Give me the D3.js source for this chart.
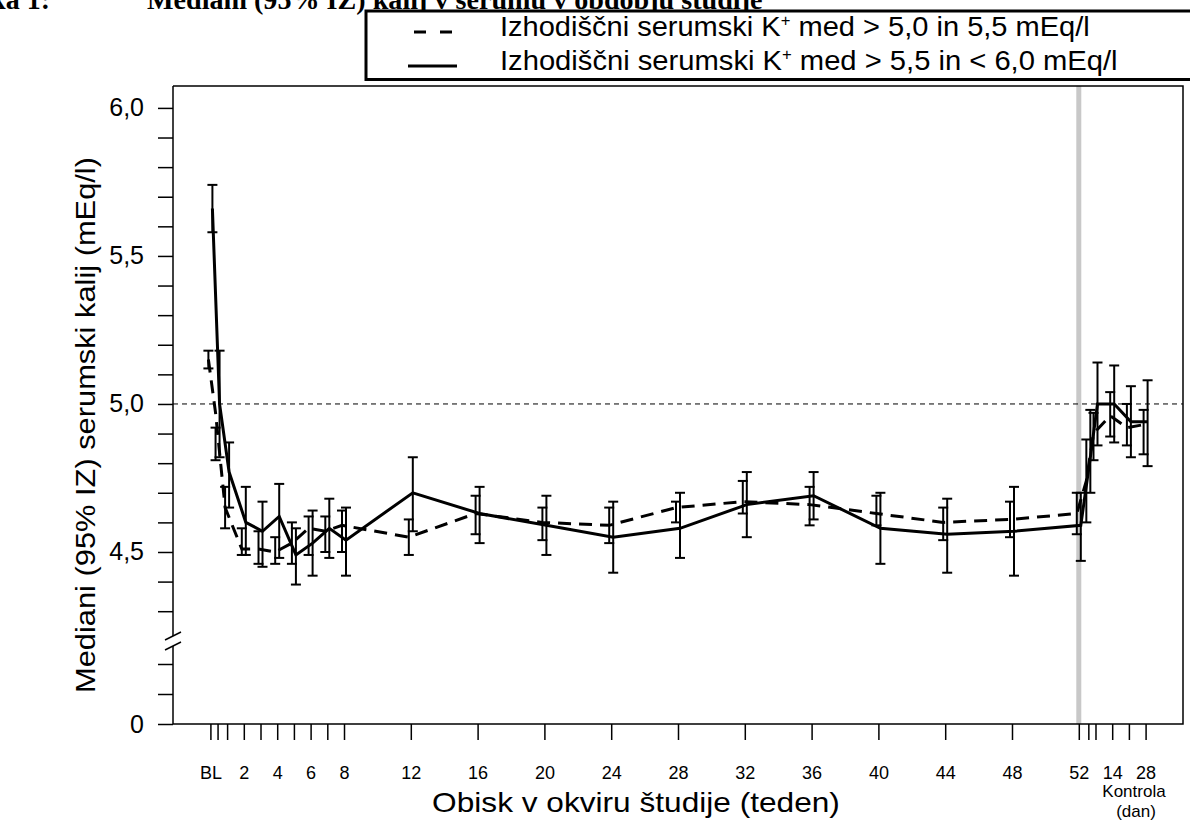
<!DOCTYPE html>
<html>
<head>
<meta charset="utf-8">
<script src="https://cdn.jsdelivr.net/npm/d3@7/dist/d3.min.js"></script>
<style>
  body { margin: 0; background: #fff; }
  svg { display: block; }
  text { font-family: "Liberation Sans", Arial, sans-serif; fill: #000; }
</style>
</head>
<body>
<div id="chart"></div>
<script>
// visits: treatment phase in weeks, follow-up in days after week 52
var studyWeeks = [0, 3 / 7, 1, 2, 3, 4, 5, 6, 7, 8, 12, 16, 20, 24, 28, 32, 36, 40, 44, 48, 52];
var followDays = [4, 7, 14, 21, 28];
var labelWeeks = [0, 2, 4, 6, 8, 12, 16, 20, 24, 28, 32, 36, 40, 44, 48, 52];
var labelDays = [14, 28];

// baseline K+ > 5,0 to 5,5 (dashed)
var dashMed = [5.15, 4.97, 4.65, 4.51, 4.51, 4.50, 4.53, 4.58, 4.57, 4.59, 4.55, 4.63, 4.60, 4.59, 4.65, 4.67, 4.66, 4.63, 4.60, 4.61, 4.63,
               4.74, 4.90, 4.96, 4.92, 4.93];
var dashLo  = [5.12, 4.81, 4.58, 4.49, 4.46, 4.46, 4.46, 4.49, 4.50, 4.50, 4.49, 4.56, 4.54, 4.53, 4.60, 4.63, 4.59, 4.59, 4.54, 4.55, 4.56,
               4.60, 4.81, 4.89, 4.86, 4.83];
var dashHi  = [5.18, 4.92, 4.72, 4.58, 4.57, 4.55, 4.60, 4.62, 4.62, 4.64, 4.61, 4.69, 4.65, 4.65, 4.67, 4.74, 4.72, 4.69, 4.65, 4.67, 4.70,
               4.88, 4.97, 5.04, 5.00, 4.98];

// baseline K+ > 5,5 to < 6,0 (solid)
var solidMed = [5.66, 5.00, 4.77, 4.60, 4.57, 4.62, 4.49, 4.53, 4.58, 4.54, 4.70, 4.63, 4.59, 4.55, 4.58, 4.66, 4.69, 4.58, 4.56, 4.57, 4.59,
                4.82, 5.00, 5.00, 4.94, 4.94];
var solidLo  = [5.58, 4.82, 4.65, 4.49, 4.45, 4.48, 4.39, 4.42, 4.48, 4.42, 4.57, 4.53, 4.49, 4.43, 4.48, 4.55, 4.61, 4.46, 4.43, 4.42, 4.47,
                4.70, 4.86, 4.87, 4.82, 4.79];
var solidHi  = [5.74, 5.18, 4.87, 4.72, 4.67, 4.73, 4.58, 4.64, 4.68, 4.65, 4.82, 4.72, 4.69, 4.67, 4.70, 4.77, 4.77, 4.70, 4.68, 4.72, 4.70,
                4.98, 5.14, 5.13, 5.06, 5.08];

var upperTicks = d3.range(43, 61).map(d => d / 10);
var lowerTicks = [0, 0.1, 0.2];
var labelledTicks = [0, 4.5, 5.0, 5.5, 6.0];
var refLevel = 5.0;

var legendText = [
  ["Izhodiščni serumski K", "+", " med > 5,0 in 5,5 mEq/l"],
  ["Izhodiščni serumski K", "+", " med > 5,5 in < 6,0 mEq/l"]
];

var width = 1190, height = 826;
var plot = {left: 173, right: 1183, top: 86, bottom: 724};

var svg = d3.select("#chart").append("svg")
  .attr("width", width)
  .attr("height", height);

// squeeze/stretch a text horizontally so it spans a given width
function fitWidth(t, x0, target) {
  var w = t.node().getBBox().width;
  t.attr("transform", `translate(${x0},0) scale(${target / w},1) translate(${-x0},0)`);
}

// position on the time axis, in weeks
var visitX = studyWeeks.concat(followDays.map(d => 52 + d / 7));

var x = d3.scaleLinear()
  .domain([-2.24, 58.24])
  .range([plot.left, plot.right]);

// broken axis: 0..0.2 at the bottom, 4.3.. upwards
var y = d3.scaleLinear()
  .domain([0, 0.2, 4.3, 6.074])
  .range([plot.bottom, 664, 611.2, plot.top]);

var comma = d3.formatLocale({decimal: ",", thousands: ".", grouping: [3], currency: ["", ""]});
var fmt1 = comma.format(".1f");

// title (clipped at the top of the page)
var serif = "'Liberation Serif', 'Times New Roman', serif";
svg.append("text")
  .attr("x", 50).attr("y", 9)
  .attr("text-anchor", "end")
  .style("font-family", serif)
  .style("font-weight", "bold")
  .style("font-size", "28px")
  .text("Slika 1:");
var title = svg.append("text")
  .attr("x", 147).attr("y", 9)
  .style("font-family", serif)
  .style("font-weight", "bold")
  .style("font-size", "28px")
  .text("Mediani (95% IZ) kalij v serumu v obdobju študije");
fitWidth(title, 147, 616);

// grey separator at week 52
svg.append("line")
  .attr("x1", x(52)).attr("x2", x(52))
  .attr("y1", plot.top).attr("y2", plot.bottom)
  .attr("stroke", "#c8c8c8")
  .attr("stroke-width", 5);

// reference line at 5,0
svg.append("line")
  .attr("x1", plot.left).attr("x2", plot.right)
  .attr("y1", y(refLevel)).attr("y2", y(refLevel))
  .attr("stroke", "#000")
  .attr("stroke-width", 1)
  .attr("stroke-dasharray", "5,4");

// frame (top, right, bottom)
svg.append("path")
  .attr("d", `M${plot.left},${plot.top}H${plot.right}V${plot.bottom}H${plot.left}`)
  .attr("fill", "none")
  .attr("stroke", "#000")
  .attr("stroke-width", 1.5);

// y axis with ticks
var yAxis = svg.append("g")
  .attr("transform", `translate(${plot.left},0)`)
  .call(d3.axisLeft(y)
    .tickValues(lowerTicks.concat(upperTicks))
    .tickSize(15)
    .tickPadding(14)
    .tickFormat(d => labelledTicks.some(v => Math.abs(v - d) < 1e-6) ? (d === 0 ? "0" : fmt1(d)) : ""));
yAxis.select(".domain").remove();
yAxis.selectAll(".tick line").attr("stroke-width", 1.5);
yAxis.selectAll("text").style("font-size", "25px");

var breakY = y(0.2) - 23;
svg.append("line")
  .attr("x1", plot.left).attr("x2", plot.left)
  .attr("y1", plot.top).attr("y2", breakY - 5)
  .attr("stroke", "#000").attr("stroke-width", 1.5);
svg.append("line")
  .attr("x1", plot.left).attr("x2", plot.left)
  .attr("y1", breakY + 5).attr("y2", plot.bottom)
  .attr("stroke", "#000").attr("stroke-width", 1.5);
[-5, 5].forEach(function(off) {
  svg.append("line")
    .attr("x1", plot.left - 8).attr("y1", breakY + off + 4)
    .attr("x2", plot.left + 8).attr("y2", breakY + off - 4)
    .attr("stroke", "#000").attr("stroke-width", 1.5);
});

// x axis
var xLabel = {};
labelWeeks.forEach(w => { xLabel[w] = w === 0 ? "BL" : String(w); });
labelDays.forEach(d => { xLabel[52 + d / 7] = String(d); });

var xAxis = svg.append("g")
  .attr("transform", `translate(0,${plot.bottom})`)
  .call(d3.axisBottom(x)
    .tickValues(visitX)
    .tickSize(16)
    .tickPadding(26)
    .tickFormat(d => xLabel[d] || ""));
xAxis.select(".domain").remove();
xAxis.selectAll(".tick line").attr("stroke-width", 1.5);
xAxis.selectAll("text").style("font-size", "18px");

// axis titles
var xTitle = svg.append("text")
  .attr("x", 636).attr("y", 812)
  .attr("text-anchor", "middle")
  .style("font-size", "28px")
  .text("Obisk v okviru študije (teden)");
fitWidth(xTitle, 636, 408);
svg.append("text")
  .attr("x", 1134).attr("y", 797)
  .attr("text-anchor", "middle")
  .style("font-size", "17px")
  .text("Kontrola");
svg.append("text")
  .attr("x", 1136).attr("y", 817)
  .attr("text-anchor", "middle")
  .style("font-size", "17px")
  .text("(dan)");
var yTitle = svg.append("text")
  .attr("text-anchor", "middle")
  .style("font-size", "28px")
  .text("Mediani (95% IZ) serumski kalij (mEq/l)");
var yTitleW = yTitle.node().getBBox().width;
yTitle.attr("transform", `translate(95,425) rotate(-90) scale(${536 / yTitleW},1)`);

// series
var series = [
  {med: dashMed, lo: dashLo, hi: dashHi, dx: -2, dash: "13,8"},
  {med: solidMed, lo: solidLo, hi: solidHi, dx: 2, dash: null}
];

series.forEach(function(s) {
  var pts = visitX.map((w, i) => ({x: x(w) + s.dx, m: s.med[i], lo: s.lo[i], hi: s.hi[i]}));
  var g = svg.append("g");

  var bars = g.selectAll("g.bar").data(pts).join("g").attr("class", "bar");
  bars.append("line")
    .attr("x1", d => d.x).attr("x2", d => d.x)
    .attr("y1", d => y(d.lo)).attr("y2", d => y(d.hi))
    .attr("stroke", "#000").attr("stroke-width", 2);
  bars.append("line")
    .attr("x1", d => d.x - 5).attr("x2", d => d.x + 5)
    .attr("y1", d => y(d.lo)).attr("y2", d => y(d.lo))
    .attr("stroke", "#000").attr("stroke-width", 2);
  bars.append("line")
    .attr("x1", d => d.x - 5).attr("x2", d => d.x + 5)
    .attr("y1", d => y(d.hi)).attr("y2", d => y(d.hi))
    .attr("stroke", "#000").attr("stroke-width", 2);

  g.append("path")
    .datum(pts)
    .attr("fill", "none")
    .attr("stroke", "#000")
    .attr("stroke-width", 3)
    .attr("stroke-dasharray", s.dash)
    .attr("d", d3.line().x(d => d.x).y(d => y(d.m)));
});

// legend
var leg = svg.append("g");
leg.append("rect")
  .attr("x", 366).attr("y", 11)
  .attr("width", 900).attr("height", 68.5)
  .attr("fill", "#fff")
  .attr("stroke", "#000")
  .attr("stroke-width", 3);
leg.append("line")
  .attr("x1", 414).attr("x2", 452).attr("y1", 32).attr("y2", 32)
  .attr("stroke", "#000").attr("stroke-width", 3).attr("stroke-dasharray", "12,14");
leg.append("line")
  .attr("x1", 408).attr("x2", 457).attr("y1", 66).attr("y2", 66)
  .attr("stroke", "#000").attr("stroke-width", 3);

var legEnds = [1090, 1118];
legendText.forEach(function(parts, i) {
  var t = leg.append("text")
    .attr("x", 500).attr("y", 36 + i * 34)
    .style("font-size", "28px");
  t.append("tspan").text(parts[0]);
  t.append("tspan").attr("dy", -10).style("font-size", "16px").text(parts[1]);
  t.append("tspan").attr("dy", 10).text(parts[2]);
  fitWidth(t, 500, legEnds[i] - 500);
});
</script>
</body>
</html>
